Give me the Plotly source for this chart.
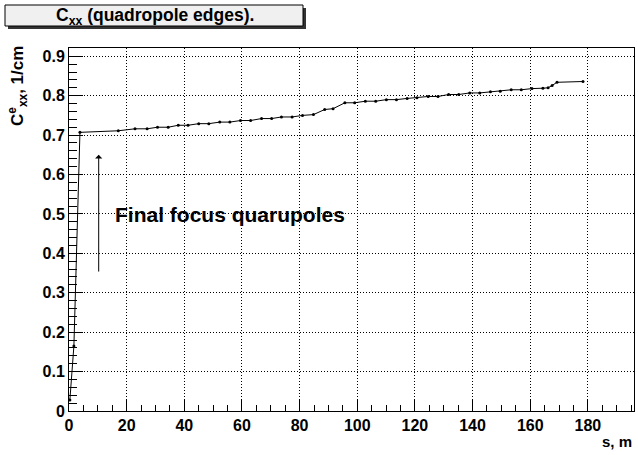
import plotly.graph_objects as go

s_m = [0.3, 1.7, 3.8, 17.1, 22.9, 27.1, 30.7, 34.4, 37.9, 41.3, 45.0, 48.5, 52.3, 55.8,
       59.5, 63.0, 66.8, 70.3, 73.7, 77.4, 81.0, 84.8, 88.7, 91.6, 95.7, 99.1, 102.8,
       106.4, 110.1, 113.6, 117.3, 120.7, 124.6, 128.0, 131.7, 135.2, 139.0, 142.5,
       146.2, 149.6, 153.4, 156.9, 160.6, 164.4, 166.2, 167.6, 169.3, 178.3]
cxx = [0.028, 0.165, 0.707, 0.711, 0.716, 0.716, 0.720, 0.720, 0.725, 0.725, 0.729, 0.729,
       0.733, 0.733, 0.737, 0.737, 0.742, 0.742, 0.746, 0.746, 0.750, 0.752, 0.765, 0.767,
       0.782, 0.782, 0.786, 0.786, 0.790, 0.790, 0.793, 0.795, 0.798, 0.798, 0.803, 0.803,
       0.807, 0.807, 0.810, 0.811, 0.815, 0.815, 0.818, 0.819, 0.820, 0.826, 0.834, 0.836]

x_ticks = [0, 20, 40, 60, 80, 100, 120, 140, 160, 180]
y_ticks = [0, 0.1, 0.2, 0.3, 0.4, 0.5, 0.6, 0.7, 0.8, 0.9]
y_tick_text = ["0", "0.1", "0.2", "0.3", "0.4", "0.5", "0.6", "0.7", "0.8", "0.9"]

FONT = "Liberation Sans"

fig = go.Figure()
fig.add_trace(go.Scatter(
    x=s_m, y=cxx, mode="lines+markers",
    line=dict(color="black", width=1),
    marker=dict(color="black", size=3),
    showlegend=False,
))

L, R, T, B = 69, 4, 48, 44
W, H = 638, 455
pw, ph = W - L - R, H - T - B

def px(x):
    return (x - L) / pw

def py(y):
    return (H - B - y) / ph

axis_common = dict(
    showline=True, linecolor="black", linewidth=1, mirror=True,
    ticks="inside", tickcolor="black", tickwidth=1,
    showgrid=True, gridcolor="black", griddash="1px,2px", gridwidth=1,
    zeroline=False,
    tickfont=dict(family=FONT, size=16, color="black", weight="bold"),
)

fig.update_xaxes(
    range=[0, 196], tickvals=x_ticks, ticklen=12,
    minor=dict(dtick=5, ticks="inside", ticklen=6, tickcolor="black", showgrid=False),
    **axis_common,
)
fig.update_yaxes(
    range=[0, 0.921], tickvals=y_ticks, ticktext=y_tick_text, ticklen=14,
    minor=dict(dtick=0.02, ticks="inside", ticklen=8, tickcolor="black", showgrid=False),
    **axis_common,
)

shapes = [
    dict(type="rect", xref="paper", yref="paper",
         x0=px(8), x1=px(306), y0=py(29), y1=py(8),
         fillcolor="#333333", line=dict(width=0), layer="above"),
    dict(type="rect", xref="paper", yref="paper",
         x0=px(5), x1=px(303), y0=py(26), y1=py(5),
         fillcolor="#f0f0f0", line=dict(color="black", width=1), layer="above"),
]

annotations = [
    dict(text="C<sub>xx</sub> (quadropole edges).", xref="paper", yref="paper",
         x=px(155), y=py(16), showarrow=False, xanchor="center", yanchor="middle",
         font=dict(family=FONT, size=17.5, color="black", weight="bold")),
    dict(text="C<sup>e</sup><sub>xx</sub>, 1/cm", xref="paper", yref="paper",
         x=px(17), y=py(44), showarrow=False, textangle=-90,
         xanchor="center", yanchor="top",
         font=dict(family=FONT, size=17, color="black", weight="bold")),
    dict(text="s, m", xref="paper", yref="paper",
         x=px(634), y=py(431), showarrow=False, xanchor="right", yanchor="top",
         font=dict(family=FONT, size=15, color="black", weight="bold")),
    dict(text="Final focus quarupoles", x=15.3, y=0.498, xref="x", yref="y",
         showarrow=False, xanchor="left", yanchor="middle",
         font=dict(family=FONT, size=21, color="black", weight="bold")),
    dict(text="", x=10.3, y=0.65, ax=10.3, ay=0.35, xref="x", yref="y",
         axref="x", ayref="y", showarrow=True, arrowhead=1, arrowsize=1.2,
         arrowwidth=1, arrowcolor="black"),
]

fig.update_layout(
    width=W, height=H,
    margin=dict(l=L, r=R, t=T, b=B),
    paper_bgcolor="white", plot_bgcolor="white",
    shapes=shapes, annotations=annotations,
    font=dict(family=FONT, color="black"),
)

fig.write_html("out.html", config={"displayModeBar": False},
               post_script="document.body.style.margin='0';document.body.style.padding='0';")
